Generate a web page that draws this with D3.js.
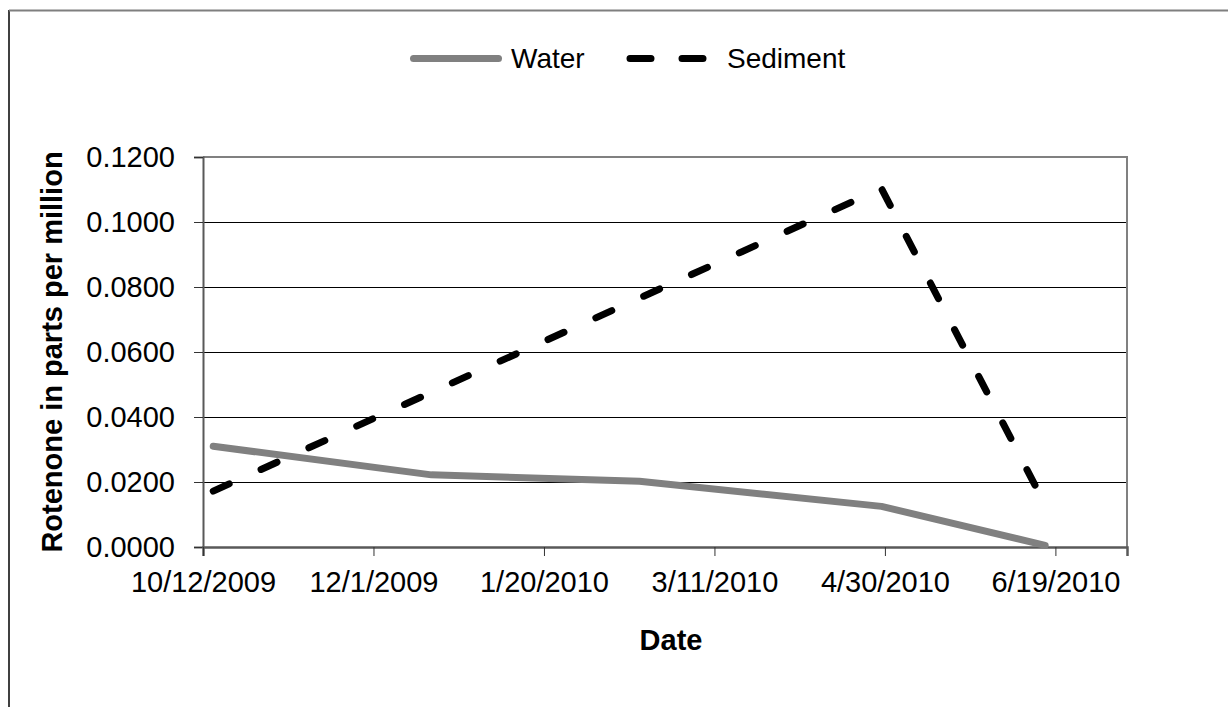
<!DOCTYPE html>
<html>
<head>
<meta charset="utf-8">
<script src="https://d3js.org/d3.v7.min.js"></script>
<style>
  body { margin: 0; background: #fff; }
  text { font-family: Arial, "Liberation Sans", sans-serif; fill: #000; }
</style>
</head>
<body>
<div id="chart"></div>
<script>
const parseDate = d3.timeParse("%m/%d/%Y");

// data
const waterDates = ["10/15/2009", "12/18/2009", "2/17/2010", "4/29/2010", "6/16/2010"];
const waterValues = [0.0310, 0.0222, 0.0202, 0.0125, 0.0005];
const sedimentDates = ["10/15/2009", "4/29/2010", "6/16/2010"];
const sedimentValues = [0.0172, 0.1103, 0.0130];
const xTickDates = ["10/12/2009", "12/1/2009", "1/20/2010", "3/11/2010", "4/30/2010", "6/19/2010"];
const yTicks = [0, 0.02, 0.04, 0.06, 0.08, 0.10, 0.12];
const xDomain = ["10/12/2009", "7/10/2010"];

const W = 1228, H = 707;
const plot = {left: 203, right: 1127, top: 157, bottom: 547};

const svg = d3.select("#chart")
    .append("svg")
    .attr("width", W)
    .attr("height", H);

// outer chart border (bottom/right run off the picture)
svg.append("line")
    .attr("x1", 9).attr("x2", 9).attr("y1", 10).attr("y2", H + 5)
    .attr("stroke", "#000").attr("stroke-width", 1.5);
svg.append("line")
    .attr("x1", 9).attr("x2", W + 5).attr("y1", 10.5).attr("y2", 10.5)
    .attr("stroke", "#7f7f7f").attr("stroke-width", 2);

const x = d3.scaleTime()
    .domain(xDomain.map(parseDate))
    .range([plot.left, plot.right]);

const y = d3.scaleLinear()
    .domain([0, 0.12])
    .range([plot.bottom, plot.top]);

// gridlines
svg.append("g")
    .selectAll("line")
    .data(yTicks.slice(1, -1))
    .join("line")
    .attr("x1", plot.left).attr("x2", plot.right)
    .attr("y1", d => Math.round(y(d)) + 0.5).attr("y2", d => Math.round(y(d)) + 0.5)
    .attr("stroke", "#000").attr("stroke-width", 1);

// plot area frame: top and right grey
svg.append("path")
    .attr("d", `M${plot.left},${plot.top}H${plot.right}V${plot.bottom}`)
    .attr("fill", "none")
    .attr("stroke", "#808080")
    .attr("stroke-width", 2);

// y axis
const yAxis = svg.append("g")
    .attr("transform", `translate(${plot.left},0)`)
    .call(d3.axisLeft(y)
        .tickValues(yTicks)
        .tickFormat(d3.format(".4f"))
        .tickSize(9)
        .tickPadding(19));
yAxis.select(".domain").attr("stroke", "#595959").attr("stroke-width", 2);
yAxis.selectAll(".tick line").attr("stroke", "#333");
yAxis.selectAll("text")
    .style("font-size", "29px")
    .attr("font-family", null);

// x axis
const xAxis = svg.append("g")
    .attr("transform", `translate(0,${plot.bottom})`)
    .call(d3.axisBottom(x)
        .tickValues(xTickDates.map(parseDate))
        .tickFormat(d3.timeFormat("%-m/%-d/%Y"))
        .tickSize(9)
        .tickPadding(15));
xAxis.select(".domain").attr("stroke", "#595959").attr("stroke-width", 2.5);
xAxis.selectAll(".tick line").attr("stroke", "#333");
xAxis.selectAll("text")
    .style("font-size", "29px")
    .attr("font-family", null);

// axis titles
svg.append("text")
    .attr("transform", `translate(62,${(plot.top + plot.bottom) / 2}) rotate(-90)`)
    .attr("text-anchor", "middle")
    .style("font-size", "29px")
    .style("font-weight", "bold")
    .text("Rotenone in parts per million");

svg.append("text")
    .attr("x", (plot.left + plot.right) / 2 + 6)
    .attr("y", 650)
    .attr("text-anchor", "middle")
    .style("font-size", "29px")
    .style("font-weight", "bold")
    .text("Date");

// series
const line = d3.line()
    .x(d => x(d.date))
    .y(d => y(d.value));

const water = waterDates.map((d, i) => ({date: parseDate(d), value: waterValues[i]}));
const sediment = sedimentDates.map((d, i) => ({date: parseDate(d), value: sedimentValues[i]}));

svg.append("path")
    .datum(water)
    .attr("d", line)
    .attr("fill", "none")
    .attr("stroke", "#808080")
    .attr("stroke-width", 7)
    .attr("stroke-linejoin", "round")
    .attr("stroke-linecap", "round");

svg.append("path")
    .datum(sediment)
    .attr("d", line)
    .attr("fill", "none")
    .attr("stroke", "#000")
    .attr("stroke-width", 7)
    .attr("stroke-linejoin", "round")
    .attr("stroke-linecap", "round")
    .attr("stroke-dasharray", "17.5,35");

// legend
const legend = svg.append("g");
legend.append("line")
    .attr("x1", 413.5).attr("x2", 498.5).attr("y1", 58.5).attr("y2", 58.5)
    .attr("stroke", "#808080").attr("stroke-width", 7).attr("stroke-linecap", "round");
legend.append("text")
    .attr("x", 511).attr("y", 68)
    .style("font-size", "28px")
    .text("Water");
legend.append("line")
    .attr("x1", 630).attr("x2", 703).attr("y1", 58.5).attr("y2", 58.5)
    .attr("stroke", "#000").attr("stroke-width", 7).attr("stroke-linecap", "round")
    .attr("stroke-dasharray", "21,31");
legend.append("text")
    .attr("x", 727).attr("y", 68)
    .style("font-size", "28px")
    .text("Sediment");
</script>
</body>
</html>
